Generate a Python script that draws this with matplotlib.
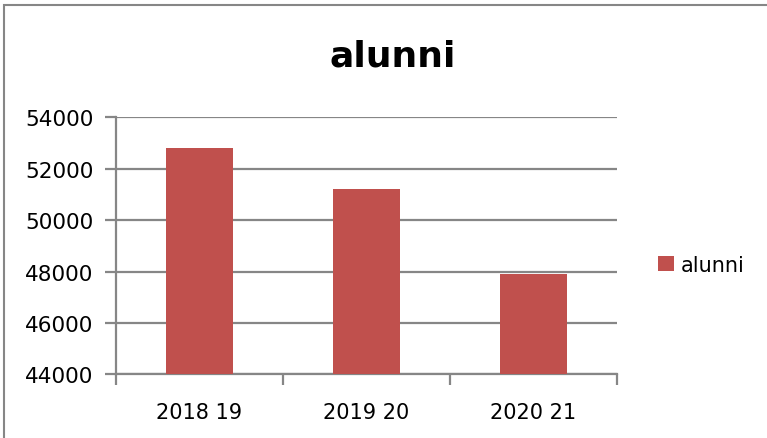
import matplotlib.pyplot as plt
from matplotlib.patches import Rectangle

# data
years = ["2018 19", "2019 20", "2020 21"]
alunni = [52800, 51200, 47900]
y_ticks = [44000, 46000, 48000, 50000, 52000, 54000]

grid_col = "#868686"
bar_col = "#C0504D"

fig = plt.figure(figsize=(7.67, 4.39), dpi=100)
ax = fig.add_axes([0.1509, 0.145, 0.6531, 0.5855])

x = list(range(len(years)))
ax.bar(x, alunni, width=0.4, color=bar_col, label="alunni", zorder=3)

ax.set_xlim(-0.5, len(years) - 0.5)
ax.set_ylim(44000, 54000)
ax.set_yticks(y_ticks)
ax.set_xticks(x)
ax.set_xticklabels(years)
ax.set_xticks([-0.5, 0.5, 1.5, 2.5], minor=True)

ax.grid(axis="y", color=grid_col, linewidth=1.6, zorder=0)
for s in ["top", "right"]:
    ax.spines[s].set_visible(False)
for s in ["left", "bottom"]:
    ax.spines[s].set_color(grid_col)
    ax.spines[s].set_linewidth(1.6)

ax.tick_params(axis="y", length=8, width=1.6, color=grid_col, labelsize=15.5, pad=8)
ax.tick_params(axis="x", which="major", length=0, labelsize=15, pad=20)
ax.tick_params(axis="x", which="minor", length=8, width=1.6, color=grid_col)

fig.text(0.512, 0.872, "alunni", ha="center", va="center", fontsize=26, fontweight="bold")

ax.legend(loc="center left", bbox_to_anchor=(1.045, 0.425), frameon=False, fontsize=15,
          handlelength=0.75, handleheight=0.75, handletextpad=0.35)

# outer chart border
fig.patches.append(Rectangle((4 / 767, -0.05), 1.1, 1.05 - 6 / 439, transform=fig.transFigure,
                             fill=False, edgecolor=grid_col, linewidth=1.5))

plt.savefig("out.png")
